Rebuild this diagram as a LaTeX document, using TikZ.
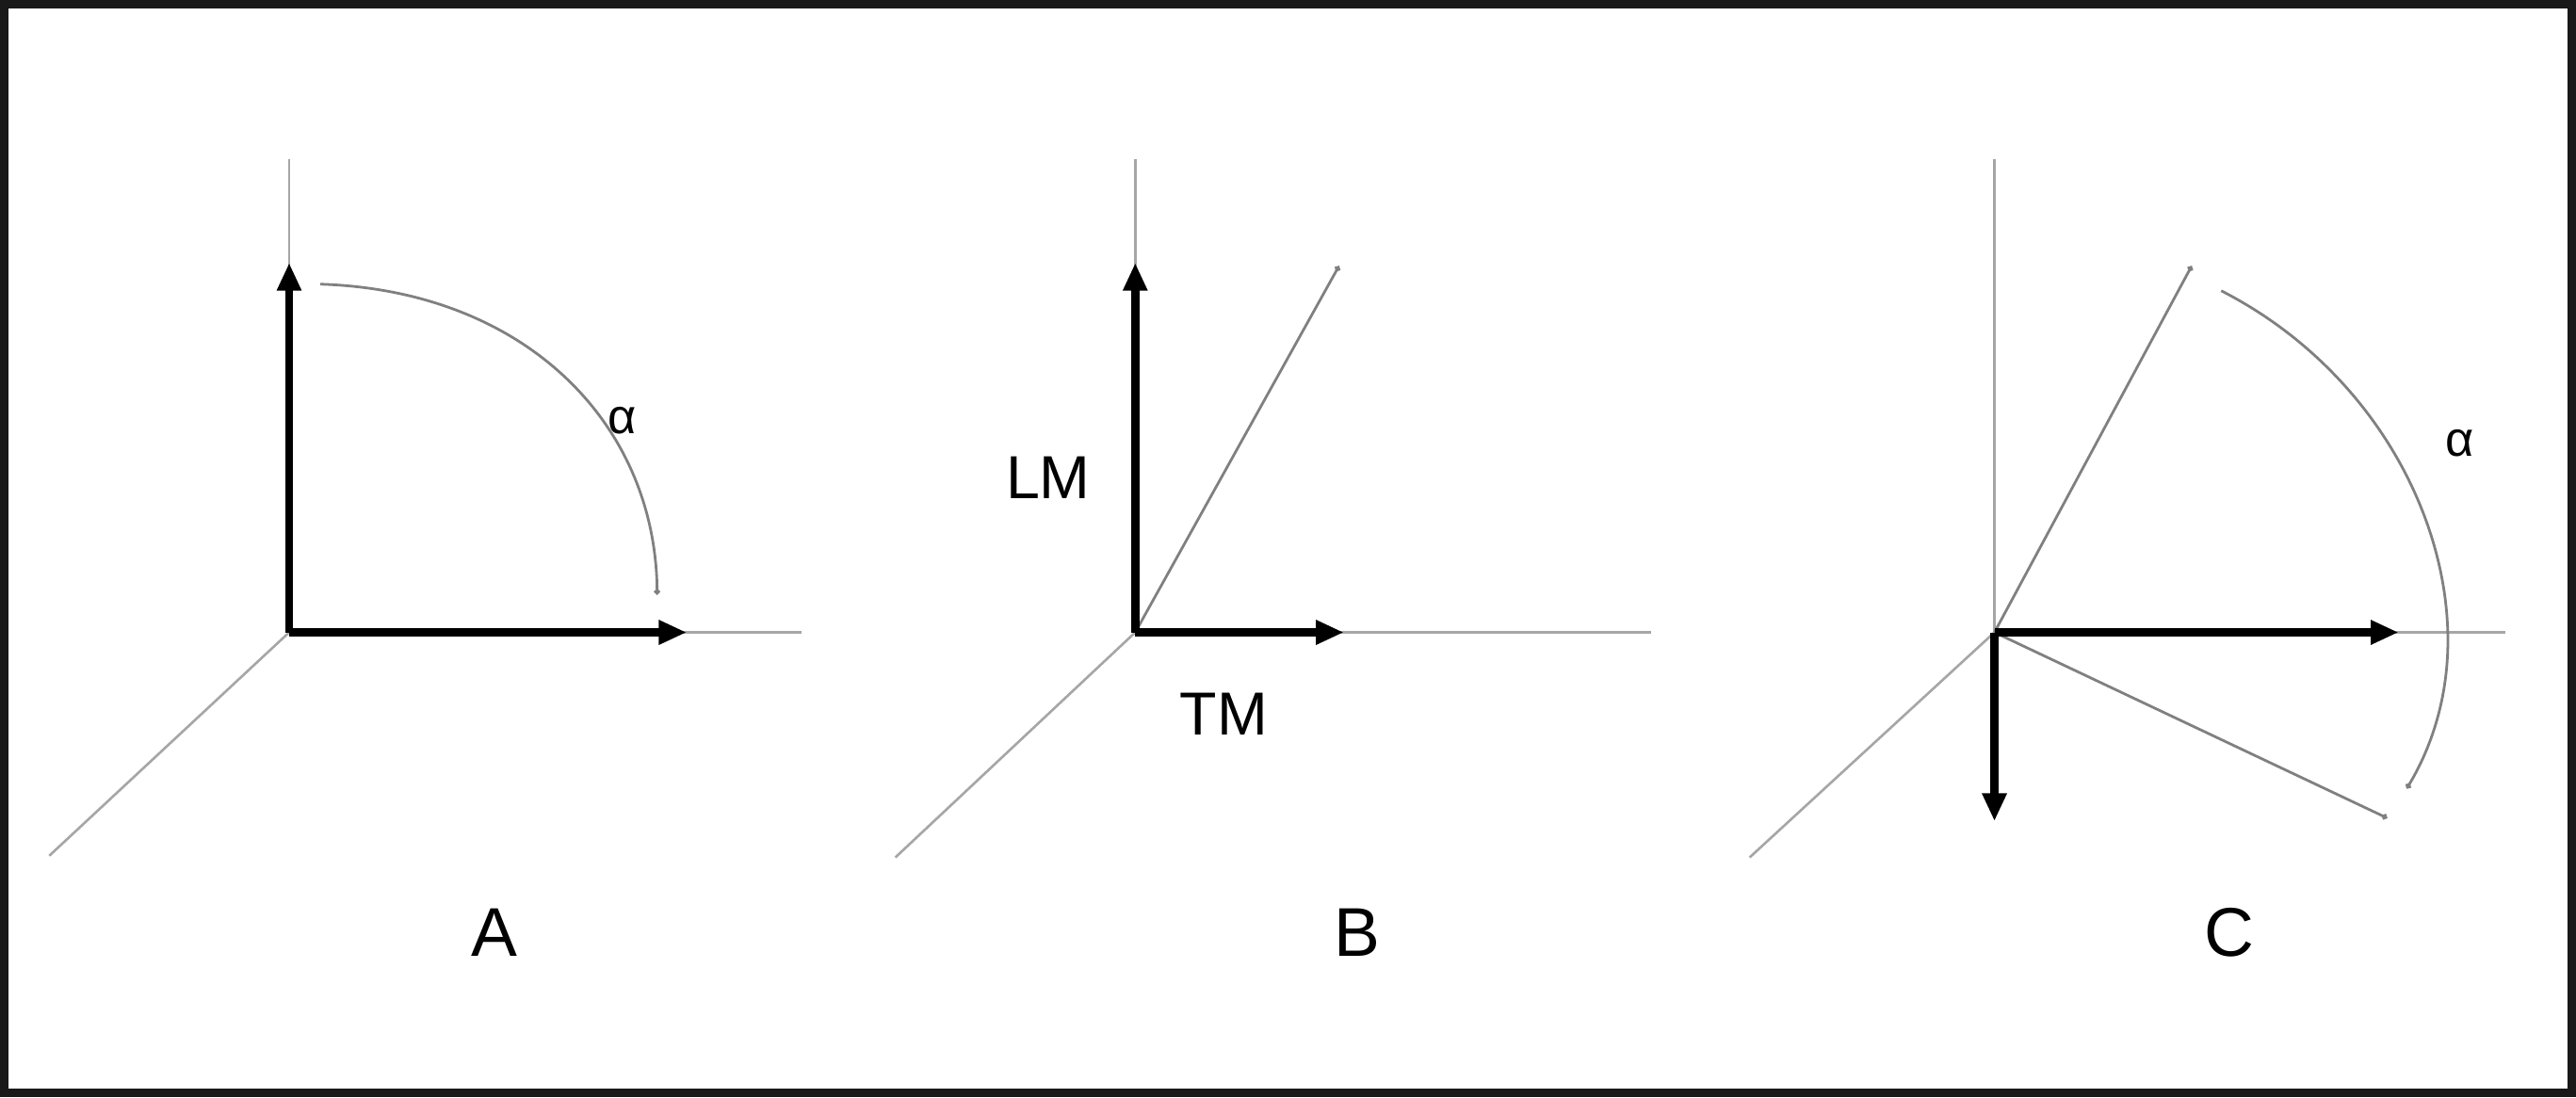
\documentclass[tikz,border=0pt]{standalone}
\usepackage{fontspec}
\setmainfont{Liberation Sans}
\usetikzlibrary{arrows.meta}
\begin{document}
\begin{tikzpicture}[x=1pt,y=-1pt,
  axis/.style={draw=black!35,line width=1.5pt},
  ray/.style={draw=black!50,line width=1.6pt,-{Circle[length=3.5pt]}},
  vec/.style={draw=black,line width=5pt,-{Triangle[length=17pt,width=14pt]}},
  arcline/.style={draw=black!50,line width=1.6pt,-{Circle[length=3.5pt]}},
  big/.style={font=\fontsize{42}{42}\selectfont},
  mid/.style={font=\fontsize{37}{37}\selectfont},
  small/.style={font=\fontsize{30}{30}\selectfont}]
\useasboundingbox (0,0) rectangle (1568,668);
\fill[white] (0,0) rectangle (1568,668);
\draw[line width=5pt,black!90] (2.5,2.5) rectangle (1565.5,665.5);
% ---- A ----
\coordinate (oA) at (176,385);
\coordinate (aTop) at (176,97);
\coordinate (aRight) at (488,385);
\coordinate (aDiag) at (30,521);
\draw[axis] (oA) -- (aTop);
\draw[axis] (oA) -- (aRight);
\draw[axis] (oA) -- (aDiag);
\draw[vec] (oA) -- (176,160);
\draw[vec] (oA) -- (418,385);
\draw[arcline] (195,173) .. controls (320,177) and (399,258) .. (400,362);
\node[small] (alphaA) at (379,256) {α};
\node[big] (labA) at (301,568) {A};
% ---- B ----
\coordinate (oB) at (691,385);
\coordinate (bTop) at (691,97);
\coordinate (bRight) at (1005,385);
\coordinate (bDiag) at (545,522);
\coordinate (bRay) at (815,162);
\draw[axis] (oB) -- (bTop);
\draw[axis] (oB) -- (bRight);
\draw[axis] (oB) -- (bDiag);
\draw[ray] (oB) -- (bRay);
\draw[vec] (oB) -- (691,160);
\draw[vec] (oB) -- (818,385);
\node[mid] (LM) at (638,291) {LM};
\node[mid] (TM) at (745,435) {TM};
\node[big] (labB) at (826,568) {B};
% ---- C ----
\coordinate (oC) at (1214,385);
\coordinate (cTop) at (1214,97);
\coordinate (cRight) at (1525,385);
\coordinate (cDiag) at (1065,522);
\coordinate (cRay1) at (1334,162);
\coordinate (cRay2) at (1453,498);
\draw[axis] (oC) -- (cTop);
\draw[axis] (oC) -- (cRight);
\draw[axis] (oC) -- (cDiag);
\draw[ray] (oC) -- (cRay1);
\draw[ray] (oC) -- (cRay2);
\draw[vec] (oC) -- (1460,385);
\draw[vec] (oC) -- (1214,500);
\draw[arcline] (1352,177) .. controls (1440,222) and (1490,310) .. (1490,390) .. controls (1490,425) and (1480,455) .. (1465,480);
\node[small] (alphaC) at (1497,270) {α};
\node[big] (labC) at (1357,568) {C};
\end{tikzpicture}
\end{document}
